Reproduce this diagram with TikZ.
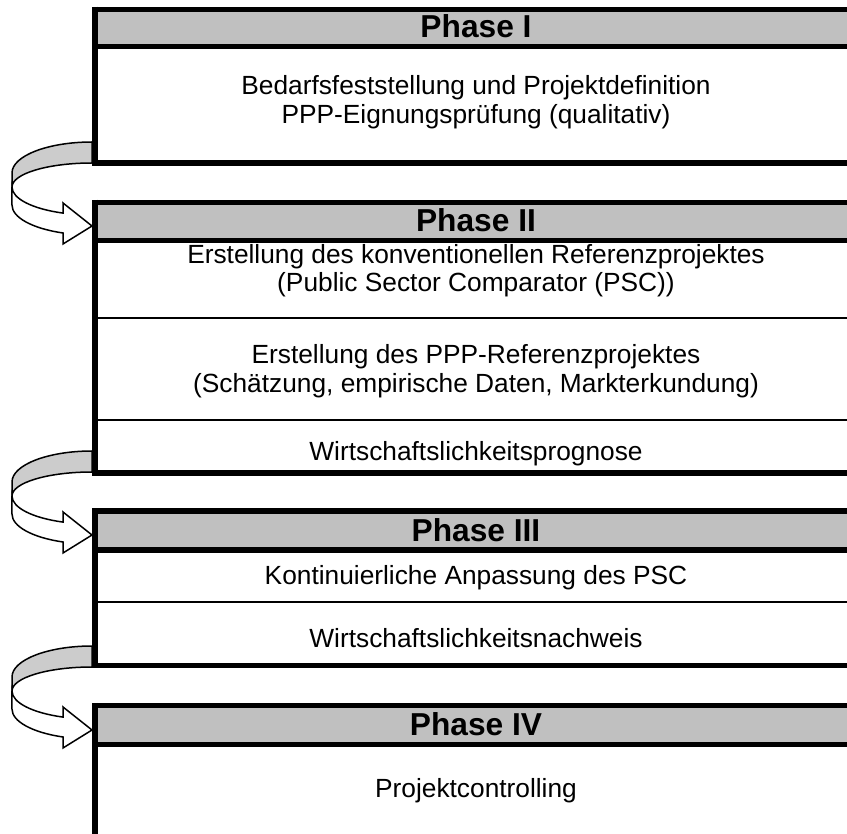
\documentclass[tikz,border=0pt]{standalone}
\usepackage{fontspec}
\setmainfont{Liberation Sans}
\definecolor{hdrgray}{HTML}{C0C0C0}
\definecolor{arrowgray}{HTML}{CCCCCC}
\newcommand{\phasearrow}[1]{%
  \draw[arrowline, fill=arrowgray] (92,{-#1}) arc[start angle=90, end angle=180, x radius=80, y radius=31]
     -- (12,{-#1-45}) arc[start angle=180, end angle=90, x radius=80, y radius=24] -- cycle;
  \draw[arrowline, fill=white] (12,{-#1-45}) arc[start angle=180, end angle=248.75, x radius=80, y radius=28]
     -- (63,{-#1-61}) -- (92,{-#1-84}) -- (63,{-#1-102}) -- (63,{-#1-91})
     arc[start angle=248.75, end angle=180, x radius=80, y radius=30] -- cycle;
}
\begin{document}
\begin{tikzpicture}[x=1pt,y=1pt,
  thickline/.style={line width=5.5pt},
  thinline/.style={line width=2pt},
  arrowline/.style={line width=1.5pt, line join=miter},
  body/.style={inner sep=0pt, anchor=base, font=\fontsize{26.3}{30}\selectfont},
  hdr/.style={inner sep=0pt, anchor=base, font=\fontsize{31.7}{36}\selectfont\bfseries}]
\useasboundingbox (0,0) rectangle (847,-834);
% arrows
\phasearrow{142}
\phasearrow{451}
\phasearrow{646}
% Phase I
\fill[hdrgray] (95,-9.5) rectangle (847,-46.5);
\draw[thickline] (92,-9.5) -- (847,-9.5);
\draw[thickline] (92,-46.5) -- (847,-46.5);
\draw[thickline] (92,-163) -- (847,-163);
\draw[line width=6pt] (95,-6.75) -- (95,-165.75);
\node[hdr] (h1) at (476,-38) {Phase I};
\node[body] (t1a) at (476,-95) {Bedarfsfeststellung und Projektdefinition};
\node[body] (t1b) at (476,-124) {PPP-Eignungsprüfung (qualitativ)};
% Phase II
\fill[hdrgray] (95,-202.5) rectangle (847,-240.5);
\draw[thickline] (92,-202.5) -- (847,-202.5);
\draw[thickline] (92,-240.5) -- (847,-240.5);
\draw[thinline] (95,-318) -- (847,-318);
\draw[thinline] (95,-420) -- (847,-420);
\draw[thickline] (92,-473) -- (847,-473);
\draw[line width=6pt] (95,-199.75) -- (95,-475.75);
\node[hdr] (h2) at (476,-232) {Phase II};
\node[body] (t2a) at (476,-264) {Erstellung des konventionellen Referenzprojektes};
\node[body] (t2b) at (476,-292) {(Public Sector Comparator (PSC))};
\node[body] (t2c) at (476,-364) {Erstellung des PPP-Referenzprojektes};
\node[body] (t2d) at (476,-393) {(Schätzung, empirische Daten, Markterkundung)};
\node[body] (t2e) at (476,-461) {Wirtschaftslichkeitsprognose};
% Phase III
\fill[hdrgray] (95,-511) rectangle (847,-550);
\draw[thickline] (92,-511) -- (847,-511);
\draw[thickline] (92,-550) -- (847,-550);
\draw[thinline] (95,-602) -- (847,-602);
\draw[thickline] (92,-665.5) -- (847,-665.5);
\draw[line width=6pt] (95,-508.25) -- (95,-668.25);
\node[hdr] (h3) at (476,-541) {Phase III};
\node[body] (t3a) at (476,-584) {Kontinuierliche Anpassung des PSC};
\node[body] (t3b) at (476,-647) {Wirtschaftslichkeitsnachweis};
% Phase IV
\fill[hdrgray] (95,-705.5) rectangle (847,-744.5);
\draw[thickline] (92,-705.5) -- (847,-705.5);
\draw[thickline] (92,-744.5) -- (847,-744.5);
\draw[line width=6pt] (95,-702.75) -- (95,-834);
\node[hdr] (h4) at (476,-735) {Phase IV};
\node[body] (t4a) at (476,-797) {Projektcontrolling};
\end{tikzpicture}
\end{document}
